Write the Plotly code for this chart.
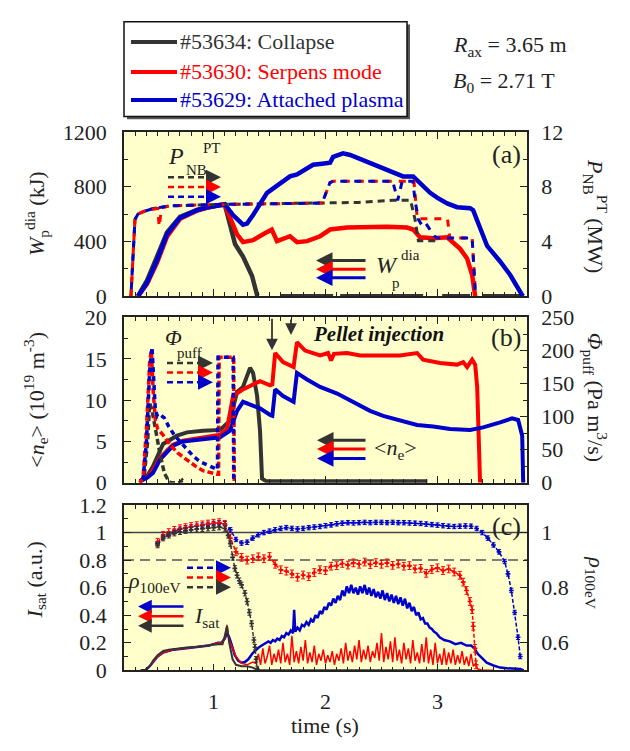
import plotly.graph_objects as go

W, H = 630, 751
BLACK, RED, BLUE = '#333333', '#ff0000', '#0000cc'
FONT = '"Liberation Serif", "Times New Roman", Times, serif'
BG = '#ffffcc'

# ---------------- panel (a) ----------------
T_WP_BLACK = [0.325, 0.406, 0.495, 0.584, 0.70, 0.852, 0.95, 1.058, 1.10, 1.147, 1.192, 1.263, 1.344, 1.389, 1.40,
              None, 1.594, 2.068, None, 2.131, 2.872, None, 3.042, 3.292, None, 3.399, 3.757]
WP_BLACK = [0, 115, 290, 465, 580, 630, 650, 668, 670, 522, 381, 289, 148, 7, 0,
            None, 0, 0, None, 0, 0, None, 0, 0, None, 0, 0]
T_WP_RED = [0.325, 0.406, 0.495, 0.584, 0.70, 0.852, 0.95, 1.058, 1.10, 1.147, 1.21, 1.263, 1.353, 1.442, 1.52,
            1.567, 1.683, 1.746, 1.835, 1.952, 2.041, 2.193, 2.372, 2.55, 2.729, 2.783, 2.845, 2.961, 3.087,
            3.14, 3.203, 3.265, 3.31, 3.337]
WP_RED = [0, 90, 245, 435, 565, 625, 648, 668, 666, 572, 452, 395, 409, 452, 487,
          402, 438, 395, 402, 438, 487, 501, 508, 508, 501, 487, 430, 424, 430,
          395, 346, 275, 155, 0]
T_WP_BLUE = [0.325, 0.406, 0.495, 0.584, 0.70, 0.852, 0.95, 1.058, 1.10, 1.174, 1.263, 1.299, 1.353, 1.478,
             1.594, 1.683, 1.746, 1.80, 1.889, 1.97, 2.041, 2.068, 2.131, 2.157, 2.22, 2.372, 2.515, 2.64,
             2.693, 2.783, 2.872, 2.935, 2.997, 3.087, 3.176, 3.292, 3.319, 3.381, 3.444, 3.56, 3.65, 3.757, 3.77]
WP_BLUE = [0, 99, 261, 452, 572, 628, 650, 671, 672, 593, 522, 530, 593, 755,
           826, 875, 890, 915, 960, 968, 975, 1017, 1038, 1043, 1031, 981, 932, 890,
           875, 875, 805, 755, 720, 678, 650, 642, 628, 487, 367, 254, 155, 7, 0]

T_PNB_BLACK = [0.262, 0.28, 0.298, 0.325, 0.38, 0.46, 0.61, 1.06, 1.97, 2.3, 2.6, 2.76, 2.80, 2.83, 3.02]
PNB_BLACK = [0, 3.0, 5.6, 6.0, 6.2, 6.4, 6.6, 6.7, 6.8, 6.85, 7.0, 7.0, 5.6, 4.05, 4.05]
T_PNB_RED = [0.262, 0.28, 0.298, 0.325, 0.38, 0.46, 0.50, 0.515, 0.535, 0.61, 1.06, 1.97, 2.04, 2.07, 2.79,
             2.82, 3.09, 3.11, 3.31, 3.34]
PNB_RED = [0, 3.0, 5.6, 6.0, 6.2, 6.35, 6.4, 5.1, 6.45, 6.6, 6.7, 6.8, 8.3, 8.4, 8.4,
           5.65, 5.65, 4.25, 4.25, 0]
T_PNB_BLUE = [0.262, 0.28, 0.298, 0.325, 0.38, 0.46, 0.61, 1.06, 1.97, 2.04, 2.07, 2.60, 2.645, 2.685, 2.78,
              2.80, 2.83, 2.86, 2.89, 2.93, 2.97, 3.0, 3.31, 3.34]
PNB_BLUE = [0, 3.0, 5.6, 6.0, 6.2, 6.4, 6.6, 6.7, 6.8, 8.3, 8.4, 8.4, 7.0, 8.4, 8.4,
            7.0, 5.6, 5.2, 5.4, 4.9, 4.4, 4.25, 4.25, 0]

# ---------------- panel (b) ----------------
T_NE_BLACK = [0.343, 0.406, 0.459, 0.549, 0.674, 0.763, 0.906, 1.058, 1.147, 1.21, 1.263, 1.326, 1.353, 1.389,
              1.415, 1.433, 1.47, 2.0, 2.5, 2.91]
NE_BLACK = [0.2, 0.8, 2.0, 4.7, 5.7, 6.1, 6.3, 6.4, 7.5, 11.0, 11.6, 13.9, 13.3, 10.5,
            6.3, 0.5, 0.2, 0.2, 0.2, 0.2]
T_NE_RED = [0.343, 0.406, 0.459, 0.522, 0.584, 0.638, 0.727, 0.906, 1.058, 1.12, 1.174, 1.263, 1.353, 1.415,
            1.505, 1.525, 1.55, 1.621, 1.715, 1.745, 1.818, 1.952, 2.023, 2.05, 2.075, 2.193, 2.309, 2.515,
            2.666, 2.818, 2.872, 3.024, 3.176, 3.23, 3.265, 3.31, 3.337, 3.355, 3.381]
NE_RED = [0.2, 0.7, 1.5, 3.0, 3.9, 4.6, 5.1, 5.5, 5.8, 6.5, 10.5, 11.3, 11.9, 12.3,
          11.8, 11.9, 15.7, 14.6, 14.0, 17.0, 16.0, 15.4, 15.7, 14.8, 15.6, 15.7, 15.4, 15.4,
          15.4, 15.7, 14.9, 14.5, 14.3, 14.6, 14.0, 14.9, 14.3, 11.6, 0]
T_NE_BLUE = [0.343, 0.406, 0.459, 0.522, 0.584, 0.638, 0.727, 0.906, 1.058, 1.147, 1.21, 1.263, 1.326, 1.415,
             1.505, 1.525, 1.55, 1.621, 1.715, 1.745, 1.835, 1.952, 2.104, 2.246, 2.398, 2.515, 2.666, 2.818,
             2.961, 3.113, 3.292, 3.408, 3.56, 3.667, 3.721, 3.757, 3.766]
NE_BLUE = [0.2, 0.6, 1.2, 2.8, 3.7, 4.5, 5.0, 5.3, 5.5, 6.3, 8.7, 9.8, 9.5, 9.0,
           8.2, 8.1, 11.3, 10.5, 9.8, 13.3, 12.5, 11.6, 10.8, 9.8, 8.7, 8.1, 7.5, 7.0,
           6.8, 6.5, 6.4, 6.7, 7.3, 7.8, 7.6, 5.7, 0]

T_PUFF_BLACK = [0.343, 0.38, 0.41, 0.43, 0.45, 0.48, 0.52, 0.56, 0.60, 0.62, 0.70, 0.72, 0.74]
PUFF_BLACK = [0, 10, 60, 120, 110, 80, 45, 15, 2, 0, 0, 4, 0]
T_PUFF_RED = [0.343, 0.37, 0.40, 0.43, 0.445, 0.46, 0.48, 0.50, 0.55, 0.61, 0.68, 0.76, 0.84, 0.91, 0.97,
              1.03, 1.045, 1.05, 1.18, 1.185]
PUFF_RED = [0, 8, 80, 185, 200, 140, 95, 82, 72, 58, 45, 35, 25, 18, 15,
            13, 13, 190, 190, 0]
T_PUFF_BLUE = [0.343, 0.37, 0.40, 0.43, 0.45, 0.465, 0.48, 0.50, 0.53, 0.56, 0.60, 0.65, 0.70, 0.76, 0.82,
               0.88, 0.94, 1.00, 1.035, 1.04, 1.175, 1.18]
PUFF_BLUE = [0, 5, 60, 170, 205, 150, 110, 100, 102, 98, 85, 72, 62, 50, 40,
             32, 27, 23, 20, 190, 190, 0]

# ---------------- panel (c) ----------------
T_RHO_BLACK = [0.50, 0.55, 0.60, 0.65, 0.70, 0.75, 0.80, 0.85, 0.90, 0.95, 1.00, 1.05, 1.10, 1.13, 1.15, 1.17,
               1.19, 1.21, 1.23, 1.25, 1.28, 1.30, 1.32, 1.34, 1.36, 1.37, 1.38, 1.39]
RHO_BLACK = [0.955, 0.98, 0.99, 0.998, 1.003, 1.007, 1.01, 1.012, 1.014, 1.016, 1.018, 1.02, 1.015, 0.99, 0.96,
             0.91, 0.87, 0.845, 0.825, 0.81, 0.78, 0.75, 0.71, 0.67, 0.61, 0.584, 0.54, 0.505]
T_RHO_RED = [0.50, 0.55, 0.60, 0.65, 0.70, 0.75, 0.80, 0.85, 0.90, 0.95, 1.00, 1.05, 1.10, 1.15, 1.20, 1.25,
             1.30, 1.35, 1.40, 1.45, 1.50, 1.55, 1.60, 1.65, 1.70, 1.75, 1.80, 1.85, 1.90, 1.95, 2.00, 2.05,
             2.10, 2.15, 2.20, 2.25, 2.30, 2.35, 2.40, 2.45, 2.50, 2.55, 2.60, 2.65, 2.70, 2.75, 2.80, 2.85,
             2.90, 2.95, 3.00, 3.05, 3.10, 3.15, 3.20, 3.23, 3.26, 3.29, 3.31, 3.32, 3.335, 3.345]
RHO_RED = [0.965, 0.99, 1.0, 1.008, 1.014, 1.018, 1.022, 1.025, 1.028, 1.031, 1.034, 1.036, 1.03, 0.98, 0.93,
           0.91, 0.90, 0.905, 0.912, 0.905, 0.913, 0.885, 0.865, 0.86, 0.85, 0.838, 0.846, 0.84, 0.855, 0.865,
           0.862, 0.878, 0.88, 0.888, 0.882, 0.89, 0.885, 0.893, 0.884, 0.891, 0.885, 0.89, 0.881, 0.886,
           0.878, 0.88, 0.868, 0.87, 0.852, 0.866, 0.872, 0.862, 0.868, 0.857, 0.845, 0.82, 0.79, 0.75, 0.72,
           0.66, 0.58, 0.52]
T_RHO_BLUE = [0.50, 0.55, 0.60, 0.65, 0.70, 0.75, 0.80, 0.85, 0.90, 0.95, 1.00, 1.05, 1.10, 1.15, 1.20, 1.25,
              1.30, 1.35, 1.40, 1.45, 1.50, 1.55, 1.60, 1.65, 1.70, 1.75, 1.80, 1.85, 1.90, 1.95, 2.00, 2.05,
              2.10, 2.15, 2.20, 2.25, 2.30, 2.35, 2.40, 2.45, 2.50, 2.55, 2.60, 2.65, 2.70, 2.75, 2.80, 2.85,
              2.90, 2.95, 3.00, 3.05, 3.10, 3.15, 3.20, 3.25, 3.30, 3.35, 3.40, 3.45, 3.50, 3.55, 3.60, 3.63,
              3.66, 3.69, 3.72, 3.74]
RHO_BLUE = [0.96, 0.985, 0.995, 1.005, 1.012, 1.017, 1.02, 1.023, 1.027, 1.03, 1.033, 1.035, 1.032, 1.01,
            0.975, 0.962, 0.965, 0.98, 0.992, 1.0, 1.005, 1.01, 1.015, 1.018, 1.015, 1.013, 1.015, 1.018, 1.02,
            1.022, 1.025, 1.028, 1.032, 1.034, 1.036, 1.035, 1.036, 1.037, 1.036, 1.037, 1.037, 1.036, 1.037,
            1.036, 1.036, 1.035, 1.034, 1.033, 1.031, 1.029, 1.027, 1.025, 1.023, 1.022, 1.023, 1.024, 1.023,
            1.015, 1.0, 0.98, 0.955, 0.93, 0.895, 0.85, 0.79, 0.71, 0.62, 0.55]

T_ISAT_BLUE = [0.35, 0.39, 0.43, 0.46, 0.50, 0.55, 0.60, 0.64, 0.70, 0.76, 0.84, 0.91, 0.96, 1.00, 1.04, 1.07,
               1.10, 1.12, 1.14, 1.16, 1.19, 1.22, 1.25, 1.28, 1.31, 1.35, 1.38, 1.41,
               1.43, 1.45, 1.47, 1.49, 1.51, 1.53, 1.55, 1.57, 1.59, 1.61, 1.63, 1.65, 1.67, 1.69, 1.71, 1.72,
               1.73, 1.75, 1.77, 1.79, 1.81, 1.83, 1.85, 1.87, 1.89, 1.91, 1.93, 1.95, 1.97, 1.99, 2.01, 2.03,
               2.05, 2.07, 2.09, 2.11, 2.13, 2.15, 2.17, 2.19, 2.21, 2.23, 2.25, 2.27, 2.29, 2.31, 2.33, 2.35,
               2.37, 2.39, 2.41, 2.43, 2.45, 2.47, 2.49, 2.51, 2.53, 2.55, 2.57, 2.59, 2.61, 2.63, 2.65, 2.67,
               2.69, 2.71, 2.73, 2.75, 2.77, 2.79, 2.81, 2.83, 2.85, 2.87, 2.89, 2.91, 2.93, 2.95, 2.97, 2.99,
               3.02, 3.06, 3.11, 3.16, 3.21, 3.26, 3.30, 3.33, 3.36, 3.40, 3.44, 3.50,
               3.56, 3.62, 3.68, 3.74, 3.77]
ISAT_BLUE = [0, 0, 0.03, 0.06, 0.10, 0.13, 0.14, 0.15, 0.155, 0.16, 0.17, 0.175, 0.18, 0.19, 0.2, 0.2,
             0.23, 0.27, 0.24, 0.19, 0.11, 0.07, 0.055, 0.06, 0.08, 0.125, 0.15, 0.17,
             0.18, 0.19, 0.2, 0.21, 0.2, 0.22, 0.21, 0.23, 0.22, 0.25, 0.24, 0.27, 0.26, 0.29, 0.27, 0.44,
             0.28, 0.31, 0.29, 0.33, 0.32, 0.35, 0.33, 0.37, 0.35, 0.40, 0.38, 0.43, 0.41, 0.46, 0.44, 0.49,
             0.47, 0.52, 0.49, 0.54, 0.51, 0.58, 0.54, 0.61, 0.56, 0.62, 0.56, 0.60, 0.55, 0.61, 0.56, 0.62,
             0.55, 0.60, 0.54, 0.59, 0.53, 0.57, 0.52, 0.58, 0.51, 0.56, 0.50, 0.55, 0.49, 0.54, 0.48, 0.53,
             0.47, 0.52, 0.45, 0.49, 0.43, 0.46, 0.40, 0.42, 0.37, 0.38, 0.34, 0.34, 0.31, 0.30, 0.28, 0.27,
             0.24, 0.22, 0.21, 0.19, 0.2, 0.18, 0.18, 0.16, 0.12, 0.09, 0.055, 0.035,
             0.02, 0.015, 0.01, 0.01, 0]
T_ISAT_RED = [0.35, 0.39, 0.43, 0.46, 0.50, 0.55, 0.60, 0.64, 0.70, 0.76, 0.84, 0.91, 0.96, 1.00, 1.04, 1.07,
              1.10, 1.12, 1.14, 1.16, 1.20, 1.25, 1.30, 1.35,
              1.38, 1.40, 1.42, 1.44, 1.46, 1.48, 1.50, 1.52, 1.54, 1.56, 1.58, 1.60, 1.62, 1.64, 1.66, 1.68,
              1.70, 1.72, 1.74, 1.76, 1.78, 1.80, 1.82, 1.84, 1.86, 1.88, 1.90, 1.92, 1.94, 1.96, 1.98, 2.00,
              2.02, 2.04, 2.06, 2.08, 2.10, 2.12, 2.14, 2.16, 2.18, 2.20, 2.22, 2.24, 2.26, 2.28, 2.30, 2.32,
              2.34, 2.36, 2.38, 2.40, 2.42, 2.44, 2.46, 2.48, 2.50, 2.52, 2.54, 2.56, 2.58, 2.60, 2.62, 2.64,
              2.66, 2.68, 2.70, 2.72, 2.74, 2.76, 2.78, 2.80, 2.82, 2.84, 2.86, 2.88, 2.90, 2.92, 2.94, 2.96,
              2.98, 3.00, 3.02, 3.04, 3.06, 3.08, 3.10, 3.12, 3.14, 3.16, 3.18, 3.20, 3.22, 3.24, 3.26, 3.28,
              3.30, 3.32, 3.34, 3.36, 3.40, 3.50]
ISAT_RED = [0, 0, 0.03, 0.06, 0.10, 0.13, 0.14, 0.15, 0.155, 0.16, 0.17, 0.175, 0.18, 0.19, 0.2, 0.2,
            0.23, 0.33, 0.22, 0.18, 0.10, 0.05, 0.04, 0.06,
            0.05, 0.12, 0.04, 0.16, 0.05, 0.10, 0.18, 0.04, 0.12, 0.06, 0.15, 0.05, 0.20, 0.06, 0.12, 0.04,
            0.25, 0.06, 0.14, 0.05, 0.17, 0.07, 0.22, 0.05, 0.13, 0.06, 0.18, 0.04, 0.12, 0.07, 0.15, 0.05,
            0.11, 0.06, 0.14, 0.04, 0.12, 0.07, 0.16, 0.05, 0.20, 0.07, 0.14, 0.06, 0.18, 0.08, 0.22, 0.06,
            0.15, 0.08, 0.18, 0.06, 0.14, 0.09, 0.20, 0.07, 0.27, 0.06, 0.17, 0.08, 0.21, 0.06, 0.24, 0.07,
            0.15, 0.05, 0.20, 0.08, 0.16, 0.05, 0.22, 0.07, 0.13, 0.05, 0.19, 0.06, 0.24, 0.05, 0.15, 0.04,
            0.20, 0.05, 0.12, 0.04, 0.16, 0.04, 0.13, 0.05, 0.15, 0.04, 0.11, 0.05, 0.14, 0.04, 0.10, 0.03,
            0.12, 0.03, 0.05, 0.01, 0, 0]
T_ISAT_BLACK = [0.35, 0.39, 0.43, 0.46, 0.50, 0.55, 0.60, 0.64, 0.70, 0.76, 0.84, 0.91, 0.96, 1.00, 1.04,
                1.08, 1.10, 1.12, 1.14, 1.17, 1.20, 1.25, 1.30, 1.35, 1.40, 3.30]
ISAT_BLACK = [0, 0, 0.03, 0.07, 0.11, 0.14, 0.15, 0.155, 0.16, 0.165, 0.17, 0.175, 0.18, 0.185, 0.19,
              0.19, 0.25, 0.32, 0.2, 0.08, 0.04, 0.03, 0.03, 0.02, 0, 0]

REF_ISAT_SOLID = 1.0
REF_ISAT_DASH = 0.8

LEGEND_NAMES = ['#53634: Collapse', '#53630: Serpens mode', '#53629: Attached plasma']
LEGEND_COLORS = [BLACK, RED, BLUE]

# ---------------- geometry helpers (paper coords from pixels) ----------------
def px(x):
    return x / W

def py(y):
    return 1 - y / H

XDOM = [px(124), px(527)]
DOM_A = [py(294), py(124)]
DOM_B = [py(487), py(316)]
DOM_C = [py(681), py(510)]

fig = go.Figure()

def line(x, y, color, width, xa, ya, dash='solid'):
    fig.add_trace(go.Scatter(x=x, y=y, mode='lines', xaxis=xa, yaxis=ya, showlegend=False,
                             line=dict(color=color, width=width, dash=dash), connectgaps=False,
                             hoverinfo='skip'))

DASH_A = '7px,7px'
DASH_B = '0px,7px,7px,0px'

# panel a
line(T_WP_BLACK, WP_BLACK, BLACK, 4.5, 'x', 'y')
line(T_WP_RED, WP_RED, RED, 4.5, 'x', 'y')
line(T_WP_BLUE, WP_BLUE, BLUE, 4.5, 'x', 'y')
line(T_PNB_BLACK, PNB_BLACK, BLACK, 3, 'x', 'y2', '7px,5px')
line(T_PNB_RED, PNB_RED, RED, 3, 'x', 'y2', DASH_A)
line(T_PNB_BLUE, PNB_BLUE, BLUE, 3, 'x', 'y2', DASH_B)

# panel b
line(T_NE_BLACK, NE_BLACK, BLACK, 4, 'x2', 'y3')
line(T_NE_RED, NE_RED, RED, 4, 'x2', 'y3')
line(T_NE_BLUE, NE_BLUE, BLUE, 4, 'x2', 'y3')
line(T_PUFF_BLACK, PUFF_BLACK, BLACK, 3.5, 'x2', 'y4', '6px,3px')
line(T_PUFF_RED, PUFF_RED, RED, 3.5, 'x2', 'y4', '6px,3px')
line(T_PUFF_BLUE, PUFF_BLUE, BLUE, 3.5, 'x2', 'y4', '0px,4px,5px,0px')

# panel c
line(T_ISAT_BLUE, ISAT_BLUE, BLUE, 2.5, 'x3', 'y5')
line(T_ISAT_RED, ISAT_RED, RED, 1.5, 'x3', 'y5')
line(T_ISAT_BLACK, ISAT_BLACK, BLACK, 2, 'x3', 'y5')
for tt, vv, cc, ee in [(T_RHO_BLUE, RHO_BLUE, BLUE, 0.008), (T_RHO_RED, RHO_RED, RED, 0.014),
                       (T_RHO_BLACK, RHO_BLACK, BLACK, 0.01)]:
    fig.add_trace(go.Scatter(x=tt, y=vv, mode='lines+markers', xaxis='x3', yaxis='y6', showlegend=False,
                             line=dict(color=cc, width=1.5, dash='4px,2px'),
                             marker=dict(symbol='cross', size=4, color=cc),
                             error_y=dict(type='constant', value=ee, color=cc, thickness=1, width=2),
                             hoverinfo='skip'))

tickfont = dict(family=FONT, size=22, color='#222')
axcommon = dict(showline=True, linecolor='#222', linewidth=1.5, ticks='inside', ticklen=7, tickwidth=1.2,
                tickcolor='#222', showgrid=False, zeroline=False, tickfont=tickfont, fixedrange=True)

def xax(anchor, labels):
    d = dict(axcommon)
    d.update(domain=XDOM, range=[0.2, 3.8], anchor=anchor, mirror='ticks', dtick=1, tick0=0,
             showticklabels=labels, ticklabelstandoff=11,
             minor=dict(ticks='inside', dtick=0.1, tick0=0, ticklen=4, tickcolor='#222', tickwidth=1))
    return d

def yax(dom, rng, dtick, mdt, tick0=0):
    d = dict(axcommon)
    d.update(domain=dom, range=rng, dtick=dtick, tick0=tick0, ticklabelstandoff=11,
             minor=dict(ticks='inside', dtick=mdt, ticklen=4, tickcolor='#222', tickwidth=1))
    return d

def yright(over, anchor, rng, dtick, mdt, tick0=0):
    d = dict(axcommon)
    d.update(overlaying=over, side='right', anchor=anchor, range=rng, dtick=dtick, tick0=tick0,
             ticklabelstandoff=8,
             minor=dict(ticks='inside', dtick=mdt, ticklen=4, tickcolor='#222', tickwidth=1))
    return d

fig.update_layout(
    width=W, height=H, margin=dict(l=0, r=0, t=0, b=0),
    paper_bgcolor='white', plot_bgcolor=BG,
    font=dict(family=FONT, size=22, color='#222'),
    showlegend=False,
    xaxis=xax('y', False), xaxis2=xax('y3', False), xaxis3=xax('y5', True),
    yaxis=yax(DOM_A, [0, 1200], 400, 200),
    yaxis2=yright('y', 'x', [0, 12], 4, 2),
    yaxis3=yax(DOM_B, [0, 20], 5, 2.5),
    yaxis4=yright('y3', 'x2', [0, 250], 50, 25),
    yaxis5=yax(DOM_C, [0, 1.2], 0.2, 0.1),
    yaxis6=yright('y5', 'x3', [0.5, 1.1], 0.2, 0.1, tick0=0.6),
)

shapes = []
ann = []

# reference lines in panel c
shapes.append(dict(type='line', xref='x3 domain', yref='y5', x0=0, x1=1, y0=REF_ISAT_SOLID, y1=REF_ISAT_SOLID,
                   line=dict(color='#444', width=1.5), layer='below'))
shapes.append(dict(type='line', xref='x3 domain', yref='y5', x0=0, x1=1, y0=REF_ISAT_DASH, y1=REF_ISAT_DASH,
                   line=dict(color='#555', width=1.5, dash='10px,6px'), layer='below'))

def text(x, y, s, size=22, color='#222', xanchor='left', angle=0, yanchor='middle'):
    ann.append(dict(x=px(x), y=py(y), xref='paper', yref='paper', text=s, showarrow=False,
                    xanchor=xanchor, yanchor=yanchor, textangle=angle,
                    font=dict(family=FONT, size=size, color=color)))

def arrow(hx, hy, dx, dy, color, width=3, size=1.1):
    ann.append(dict(x=px(hx), y=py(hy), xref='paper', yref='paper', ax=dx, ay=dy, text='',
                    showarrow=True, arrowhead=2, arrowsize=size, arrowwidth=width, arrowcolor=color))

def dashed_arrow(x0, x1, y, color):
    shapes.append(dict(type='line', xref='paper', yref='paper', x0=px(x0), x1=px(x1 - 8), y0=py(y), y1=py(y),
                       line=dict(color=color, width=2.5, dash='6px,4px')))
    arrow(x1, y, -14, 0, color, width=2.5, size=1.2)

# legend box at top
shapes.append(dict(type='rect', xref='paper', yref='paper', x0=px(127), x1=px(410), y0=py(111), y1=py(13),
                   fillcolor='#555', line=dict(width=0)))
shapes.append(dict(type='rect', xref='paper', yref='paper', x0=px(124), x1=px(407), y0=py(108), y1=py(10),
                   fillcolor='white', line=dict(color='#111', width=1.5)))
for i, (name, col) in enumerate(zip(LEGEND_NAMES, LEGEND_COLORS)):
    yy = [31, 62, 91][i]
    shapes.append(dict(type='line', xref='paper', yref='paper', x0=px(131), x1=px(177), y0=py(yy), y1=py(yy),
                       line=dict(color=col, width=4)))
    text(178, yy, name, 22, col)
text(451, 35, '<i>R</i><sub>ax</sub> = 3.65 m', 22)
text(451, 72, '<i>B</i><sub>0</sub> = 2.71 T', 22)

# panel labels
text(523, 147, '(a)', 26, '#222', 'right')
text(523, 337, '(b)', 26, '#222', 'right')
text(523, 532, '(c)', 26, '#222', 'right')

# panel a annotations
text(166, 149, '<i>P</i>', 24)
text(184, 163, 'NB', 15)
text(201, 141, 'PT', 15)
for yy, col in zip([171, 181, 191], [BLACK, RED, BLUE]):
    dashed_arrow(168, 221, yy, col)
for yy, col in zip([257, 266, 275], [BLACK, RED, BLUE]):
    arrow(316, yy, 51, 0, col, 3, 1.1)
text(374, 262, '<i>W</i>', 24)
text(399, 251, 'dia', 15)
text(390, 280, 'p', 15)

# panel b annotations
text(163, 337, '<i>Φ</i>', 22)
text(175, 353, 'puff', 15)
for yy, col in zip([363, 373, 383], [BLACK, RED, BLUE]):
    dashed_arrow(167, 213, yy, col)
for yy, col in zip([443, 452, 462], [BLACK, RED, BLUE]):
    arrow(317, yy, 50, 0, col, 3, 1.1)
text(372, 452, '&lt;<i>n</i><sub>e</sub>&gt;', 22)
arrow(272, 350, 0, -33, '#333', 1.8, 1.3)
arrow(291, 334, 0, -17, '#333', 1.8, 1.3)
ann.append(dict(x=px(311), y=py(333), xref='paper', yref='paper', showarrow=False, xanchor='left',
                text='<b><i>Pellet injection</i></b>', font=dict(family=FONT, size=21, color='#111')))

# panel c annotations
text(126, 590, '<i>ρ</i><sub>100eV</sub>', 22)
for yy, col in zip([575, 585, 595], [BLUE, RED, BLACK]):
    dashed_arrow(187, 231, yy, col)
for yy, col in zip([615, 625, 635], [BLUE, RED, BLACK]):
    arrow(138, yy, 47, 0, col, 2.5, 1.1)
text(192, 626, '<i>I</i><sub>sat</sub>', 22)

# axis titles
text(36, 209, '<i>W</i><sub>p</sub><sup>dia</sup> (kJ)', 22, '#222', 'center', -90)
text(36, 401, '&lt;<i>n</i><sub>e</sub>&gt; (10<sup>19</sup> m<sup>-3</sup>)', 22, '#222', 'center', -90)
text(36, 588, '<i>I</i><sub>sat</sub> (a.u.)', 22, '#222', 'center', -90)
text(595, 211, '<i>P</i><sub>NB</sub><sup>PT</sup> (MW)', 22, '#222', 'center', 90)
text(595, 398, '<i>Φ</i><sub>puff</sub> (Pa m<sup>3</sup>/s)', 22, '#222', 'center', 90)
text(595, 590, '<i>ρ</i><sub>100eV</sub>', 22, '#222', 'center', 90)
text(325, 738, 'time (s)', 22, '#222', 'center')

fig.update_layout(shapes=shapes, annotations=ann)
fig.write_html('out.html', config={'displayModeBar': False})
